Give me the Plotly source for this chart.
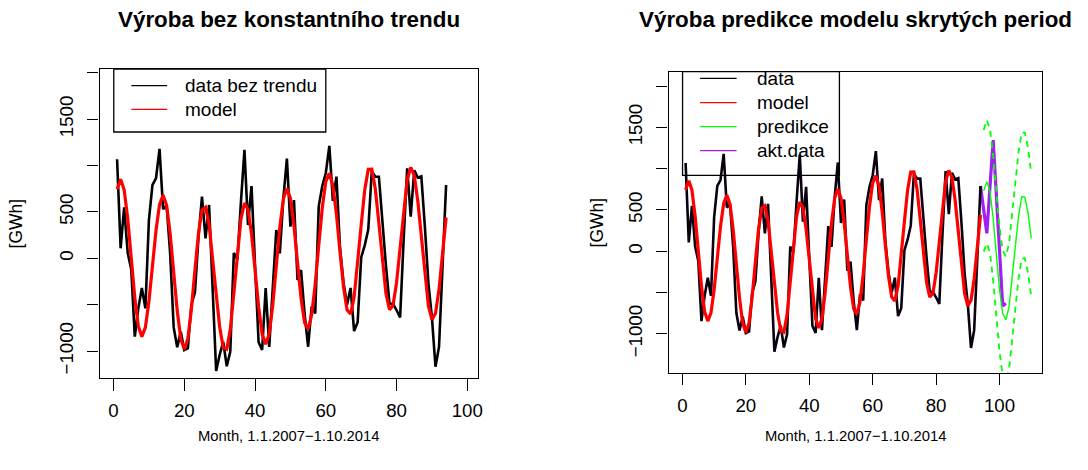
import plotly.graph_objects as go

W, H = 1088, 470

month = list(range(1, 95))
data_bez_trendu = [1068, 108, 550, 58, -117, -845, -540, -320, -540, 414,
                   791, 863, 1180, 530, 572, 50, -745, -960, -791, -989,
                   -970, -500, -370, 220, 665, 216, 575, -300, -1215, -1040,
                   -900, -1165, -1005, 58, -15, 605, 1170, 359, 780, -80,
                   -905, -989, -320, -955, -380, 305, 54, 650, 1075, 342,
                   627, -234, -126, -600, -954, -522, -594, 560, 780, 920,
                   1212, 620, 881, 120, -260, -500, -320, -785, -690, 10,
                   140, 310, 940, 880, 880, 380, -80, -490, -490, -560,
                   -637, 200, 971, 449, 950, 870, 885, 341, -270, -640,
                   -1170, -955, -100, 791]
model = [744, 853, 739, 429, 4, -421, -731, -845, -744, -464,
         -82, 300, 580, 682, 570, 266, -150, -566, -870, -982,
         -867, -550, -129, 267, 523, 551, 367, 26, -379, -741,
         -962, -980, -766, -380, 61, 422, 595, 530, 265, -121,
         -520, -817, -928, -815, -507, -86, 334, 642, 755, 646,
         351, -45, -431, -695, -762, -610, -281, 140, 544, 828,
         916, 786, 476, 73, -307, -555, -601, -421, -68, 359,
         738, 959, 961, 747, 380, -34, -379, -554, -510, -260,
         123, 532, 847, 980, 895, 618, 222, -191, -513, -661,
         -596, -335, 47, 440]

pred_month = list(range(95, 111))
predikce = [734, 843, 723, 398, -38, -463, -753, -829, -674, -344,
            62, 427, 660, 655, 465, 157]
pred_upper = [1469, 1590, 1473, 1150, 717, 295, 9, -64, 93, 426,
              834, 1202, 1438, 1436, 1249, 944]
pred_lower = [-5, 97, -25, -352, -790, -1216, -1507, -1584, -1429, -1099,
              -693, -328, -90, -85, -265, -549]

akt_month = list(range(94, 103))
akt_data = [791, 480, 218, 790, 1347, 680, -10, -662, -630]

x_ticks = [0, 20, 40, 60, 80, 100]
y_ticks = [-1000, -500, 0, 500, 1000, 1500, 2000]
y_ticktext = ["\u22121000", "", "0", "500", "", "1500", ""]

title_left = "Výroba bez konstantního trendu"
title_right = "Výroba predikce modelu skrytých period"
x_label = "Month, 1.1.2007\u22121.10.2014"
y_label = "[GWh]"

FONT = "Liberation Sans, Arial, Helvetica, sans-serif"
RED = "#FF0000"
GREEN = "#00FF00"
PURPLE = "#A020F0"


def px(x):
    return x / W


def py(y):
    return 1 - y / H


fig = go.Figure()

# left panel
fig.add_trace(go.Scatter(x=month, y=data_bez_trendu, mode="lines", name="data bez trendu",
                         line=dict(color="black", width=2.6), xaxis="x", yaxis="y"))
fig.add_trace(go.Scatter(x=month, y=model, mode="lines", name="model",
                         line=dict(color=RED, width=3.2), xaxis="x", yaxis="y"))

# right panel
fig.add_trace(go.Scatter(x=akt_month, y=akt_data, mode="lines", name="akt.data",
                         line=dict(color=PURPLE, width=3.2), xaxis="x2", yaxis="y2"))
fig.add_trace(go.Scatter(x=month, y=data_bez_trendu, mode="lines", name="data",
                         line=dict(color="#0a0010", width=2.6), xaxis="x2", yaxis="y2"))
fig.add_trace(go.Scatter(x=month, y=model, mode="lines", name="model",
                         line=dict(color=RED, width=3.2), xaxis="x2", yaxis="y2"))
fig.add_trace(go.Scatter(x=pred_month, y=predikce, mode="lines", name="predikce",
                         line=dict(color=GREEN, width=1.4), xaxis="x2", yaxis="y2"))
fig.add_trace(go.Scatter(x=pred_month, y=pred_upper, mode="lines", name="upper",
                         line=dict(color=GREEN, width=1.8, dash="6px,5px"), xaxis="x2", yaxis="y2"))
fig.add_trace(go.Scatter(x=pred_month, y=pred_lower, mode="lines", name="lower",
                         line=dict(color=GREEN, width=1.8, dash="6px,5px"), xaxis="x2", yaxis="y2"))

axis_common = dict(showgrid=False, zeroline=False, showline=True, mirror=True,
                   linecolor="black", linewidth=1.3, ticks="outside", ticklen=11.5,
                   tickwidth=1.3, tickcolor="black",
                   tickfont=dict(family=FONT, size=18.7, color="black"))

fig.update_layout(
    width=W, height=H,
    margin=dict(l=0, r=0, t=0, b=0),
    paper_bgcolor="white", plot_bgcolor="white",
    showlegend=False,
    xaxis=dict(domain=[px(100), px(480)], range=[-3.96, 102.96],
               tickvals=x_ticks, anchor="y", ticklabelstandoff=4, **axis_common),
    yaxis=dict(domain=[py(378), py(69)], range=[-1291, 2042],
               tickvals=y_ticks, ticktext=y_ticktext, tickangle=-90,
               anchor="x", ticklabelstandoff=6, **axis_common),
    xaxis2=dict(domain=[px(671.7), px(1046.7)], range=[-4.36, 113.36],
                tickvals=x_ticks, anchor="y2", ticklabelstandoff=4, **axis_common),
    yaxis2=dict(domain=[py(372.7), py(71.7)], range=[-1470, 2174],
                tickvals=y_ticks, ticktext=y_ticktext, tickangle=-90,
                anchor="x2", ticklabelstandoff=6, **axis_common),
)

ann = []
shapes = []
# titles
for cx, txt in [(290, title_left), (859, title_right)]:
    ann.append(dict(x=px(cx), y=py(20), xref="paper", yref="paper", text="<b>" + txt + "</b>",
                    showarrow=False, xanchor="center", yanchor="middle",
                    font=dict(family=FONT, size=22.4, color="black")))
# x labels
for cx in [290, 859]:
    ann.append(dict(x=px(cx), y=py(436), xref="paper", yref="paper", text=x_label,
                    showarrow=False, xanchor="center", yanchor="middle",
                    font=dict(family=FONT, size=14.8, color="black")))
# y labels
for cx, cy in [(16, 223.5), (600, 222.2)]:
    ann.append(dict(x=px(cx), y=py(cy), xref="paper", yref="paper", text=y_label,
                    showarrow=False, xanchor="center", yanchor="middle", textangle=-90,
                    font=dict(family=FONT, size=17.5, color="black")))

# legends
legends = [
    dict(box=(114.3, 69, 327.3, 132), x0=132, x1=168, tx=184.3,
         rows=[(85.7, "black", "data bez trendu"), (109.3, RED, "model")]),
    dict(box=(685.7, 71.7, 843.3, 175.3), x0=703.3, x1=740, tx=758.3,
         rows=[(78.3, "black", "data"), (102.7, RED, "model"),
               (126.7, GREEN, "predikce"), (150.7, PURPLE, "akt.data")]),
]
for lg in legends:
    bx0, by0, bx1, by1 = lg["box"]
    shapes.append(dict(type="rect", xref="paper", yref="paper", x0=px(bx0), x1=px(bx1),
                       y0=py(by1), y1=py(by0), line=dict(color="black", width=1.3),
                       fillcolor="rgba(0,0,0,0)"))
    for ry, col, txt in lg["rows"]:
        shapes.append(dict(type="line", xref="paper", yref="paper", x0=px(lg["x0"]),
                           x1=px(lg["x1"]), y0=py(ry), y1=py(ry),
                           line=dict(color=col, width=1.3)))
        ann.append(dict(x=px(lg["tx"]), y=py(ry), xref="paper", yref="paper", text=txt,
                        showarrow=False, xanchor="left", yanchor="middle",
                        font=dict(family=FONT, size=19, color="black")))

fig.update_layout(annotations=ann, shapes=shapes)
fig.write_html("out.html", config={"displayModeBar": False},
               post_script="document.body.style.margin='0px';")
